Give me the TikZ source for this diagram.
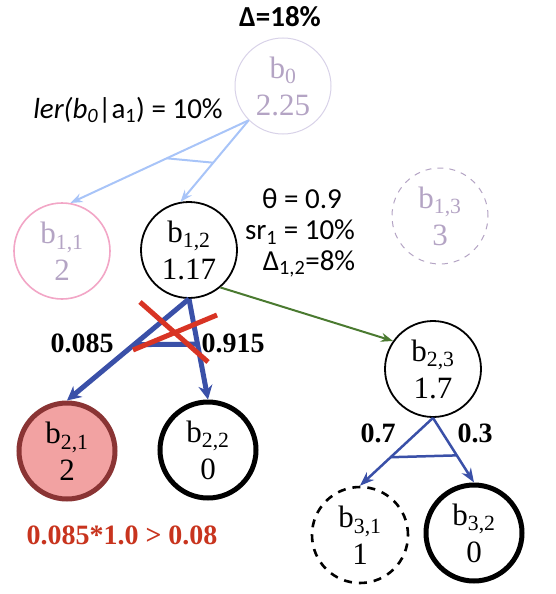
\documentclass[tikz,border=0pt]{standalone}
\usepackage{fontspec}
\setmainfont{Liberation Serif}
\newfontfamily\lblfont{Carlito}
\usetikzlibrary{arrows.meta}
\definecolor{fadeline}{HTML}{D8D2E8}
\definecolor{fadetext}{HTML}{B4A4C4}
\definecolor{pinkline}{HTML}{F2A6C6}
\definecolor{lightblue}{HTML}{A8C4F8}
\definecolor{darkblue}{HTML}{3A50A8}
\definecolor{edgegreen}{HTML}{4A7A30}
\definecolor{redfill}{HTML}{F2A2A2}
\definecolor{redline}{HTML}{8A3434}
\definecolor{crossred}{HTML}{D83424}
\definecolor{textred}{HTML}{C8341E}

\begin{document}
\begin{tikzpicture}[x=1pt, y=-1pt,
  belief/.style={circle, draw, line width=1.8pt, minimum size=96pt, inner sep=0pt, align=center, font=\fontsize{31}{37}\selectfont},
  faded/.style={belief, draw=fadeline, text=fadetext, line width=1pt},
  lbl/.style={font=\lblfont\fontsize{29}{32}\selectfont, align=center},
  prob/.style={font=\fontsize{28}{32}\selectfont\bfseries},
  >=Stealth]
  \useasboundingbox (0,0) rectangle (555,594);
  % belief nodes
  \node[faded] (b0) at (283,86) {b\textsubscript{0}\\2.25};
  \node[faded, draw=pinkline, line width=1.6pt] (b11) at (62,251) {b\textsubscript{1,1}\\2};
  \node[belief] (b12) at (189,250) {b\textsubscript{1,2}\\1.17};
  \node[faded, dashed, draw=fadetext, dash pattern=on 6pt off 6pt] (b13) at (440,216) {b\textsubscript{1,3}\\3};
  \node[belief] (b23) at (433,369) {b\textsubscript{2,3}\\1.7};
  \node[belief, fill=redfill, draw=redline, line width=5pt] (b21) at (67,451) {b\textsubscript{2,1}\\2};
  \node[belief, line width=5pt] (b22) at (208,450) {b\textsubscript{2,2}\\0};
  \node[belief, dashed, line width=2.6pt, dash pattern=on 8pt off 7pt] (b31) at (360,535) {b\textsubscript{3,1}\\1};
  \node[belief, line width=5pt] (b32) at (474,533) {b\textsubscript{3,2}\\0};
  % labels
  \node[lbl, font=\lblfont\bfseries\fontsize{29}{32}\selectfont] (delta) at (280,17) {Δ=18\%};
  \node[lbl] (ler) at (128,110) {{\itshape ler(b\textsubscript{0}}|a\textsubscript{1}) = 10\%};
  \node[lbl] (theta) at (302,199) {θ = 0.9};
  \node[lbl] (sr) at (300,232) {sr\textsubscript{1} = 10\%};
  \node[lbl] (dd) at (309,264) {Δ\textsubscript{1,2}=8\%};
  \node[prob] (p1) at (82,343) {0.085};
  \node[prob] (p2) at (233,343) {0.915};
  \node[prob] (p3) at (378,433) {0.7};
  \node[prob] (p4) at (475,433) {0.3};
  \node[prob, text=textred] (cond) at (122,535) {0.085*1.0 > 0.08};
  % edges
  \draw[->, lightblue, line width=2pt] (b0.225) -- (b11.80) coordinate[pos=0.46] (m1);
  \draw[->, lightblue, line width=2pt] (b0.225) -- (b12.100) coordinate[pos=0.52] (m2);
  \draw[lightblue, line width=2pt] (m1) -- (m2);
  \draw[->, darkblue, line width=5pt, >={Stealth[length=14pt,width=14pt]}] (b12.south) -- (b21.north) coordinate[pos=0.45] (m3);
  \draw[->, darkblue, line width=5pt, >={Stealth[length=14pt,width=14pt]}] (b12.south) -- (b22.north) coordinate[pos=0.45] (m4);
  \draw[darkblue, line width=5pt] (m3) -- (m4);
  \draw[->, edgegreen, line width=2pt] (b12.-50) -- (b23.145);
  \draw[->, darkblue, line width=2.5pt] (b23.south) -- (b31.north) coordinate[pos=0.58] (m5);
  \draw[->, darkblue, line width=2.5pt] (b23.south) -- (b32.north) coordinate[pos=0.58] (m6);
  \draw[darkblue, line width=2.5pt] (m5) -- (m6);
  % cross
  \coordinate (x1) at (140,302);
  \coordinate (x2) at (208,362);
  \coordinate (x3) at (217,315);
  \coordinate (x4) at (133,350);
  \draw[crossred, line width=5pt] (x1) -- (x2);
  \draw[crossred, line width=5pt] (x3) -- (x4);
\end{tikzpicture}
\end{document}
